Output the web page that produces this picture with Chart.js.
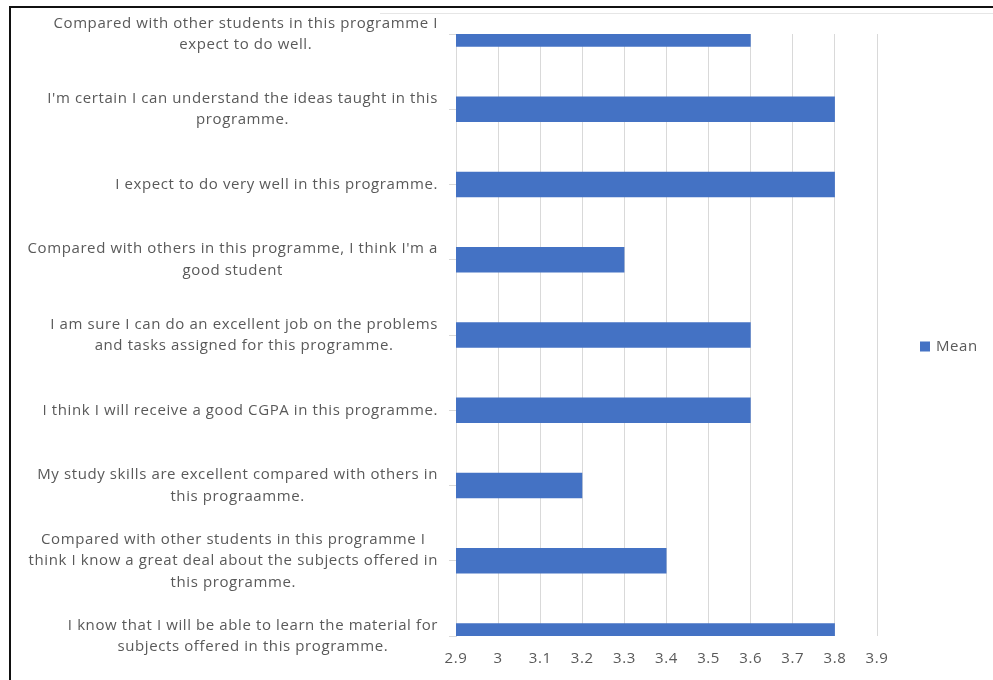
<!DOCTYPE html>
<html>
<head>
<meta charset="utf-8">
<title>Mean scores</title>
<script src="https://cdn.jsdelivr.net/npm/chart.js@4.4.1/dist/chart.umd.min.js"></script>
<style>
  html, body { margin: 0; padding: 0; background: #fff; }
  #wrap { position: relative; width: 993px; height: 680px; overflow: hidden; }
  #wrap canvas { position: absolute; left: 0; top: 0; }
  .frame-top { position: absolute; left: 9px; top: 6px; width: 984px; height: 2px; background: #111; }
  .frame-left { position: absolute; left: 9px; top: 6px; width: 2px; height: 674px; background: #111; }
  .inner-top { position: absolute; left: 380px; top: 13px; width: 613px; height: 1px; background: #e6e6e6; }
</style>
</head>
<body>
<div id="wrap">
  <canvas id="chart" width="993" height="680"></canvas>
  <div class="frame-top"></div>
  <div class="frame-left"></div>
  <div class="inner-top"></div>
</div>
<script>
// Survey statements (one entry per line of the wrapped label)
const categories = [
  ["Compared with other students in this programme I", "expect to do well."],
  ["I'm certain I can understand the ideas taught in this", "programme."],
  ["I expect to do very well in this programme."],
  ["Compared with others in this programme, I think I'm a", "good student"],
  ["I am sure I can do an excellent job on the problems", "and tasks assigned for this programme."],
  ["I think I will receive a good CGPA in this programme."],
  ["My study skills are excellent compared with others in", "this prograamme."],
  ["Compared with other students in this programme I", "think I know a great deal about the subjects offered in", "this programme."],
  ["I know that I will be able to learn the material for", "subjects offered in this programme."]
];
const meanValues = [3.6, 3.8, 3.8, 3.3, 3.6, 3.6, 3.2, 3.4, 3.8];
const xTickLabels = ["2.9", "3", "3.1", "3.2", "3.3", "3.4", "3.5", "3.6", "3.7", "3.8", "3.9"];
const seriesName = "Mean";

const TEXT_COLOR = "#595959";
const GRID_COLOR = "#d9d9d9";
const BAR_COLOR = "#4472c4";
const FONT_FAMILY = "'Open Sans', 'Noto Sans', sans-serif";
const LABEL_SIZE = 15;
const LETTER_SPACING = "0.6px";
const LABEL_LINE_HEIGHT = 21.5;

// Slightly open letter spacing for every piece of text on the canvas
const textSpacing = {
  id: "textSpacing",
  beforeDraw(chart) {
    chart.ctx.letterSpacing = LETTER_SPACING;
  }
};

// Category labels: each block right-aligned next to the axis, lines centred within the block
const centredLabels = {
  id: "centredLabels",
  afterDraw(chart) {
    const ctx = chart.ctx;
    const yScale = chart.scales.y;
    const right = yScale.right - 18;
    ctx.save();
    ctx.letterSpacing = LETTER_SPACING;
    ctx.font = LABEL_SIZE + "px " + FONT_FAMILY;
    ctx.fillStyle = TEXT_COLOR;
    ctx.textAlign = "center";
    ctx.textBaseline = "middle";
    chart.data.labels.forEach((lines, i) => {
      const cy = yScale.getPixelForTick(i);
      const w = Math.max(...lines.map(l => ctx.measureText(l).width));
      const cx = right - w / 2;
      const n = lines.length;
      lines.forEach((line, k) => {
        ctx.fillText(line, cx, cy + (k - (n - 1) / 2) * LABEL_LINE_HEIGHT);
      });
    });
    ctx.restore();
  }
};

// Single-entry legend to the right of the plot
const sideLegend = {
  id: "sideLegend",
  afterDraw(chart) {
    const ctx = chart.ctx;
    const area = chart.chartArea;
    const ds = chart.data.datasets[0];
    const x = area.right + 43;
    const y = chart.height / 2 + 6.5;
    ctx.save();
    ctx.letterSpacing = LETTER_SPACING;
    ctx.fillStyle = ds.backgroundColor;
    ctx.fillRect(x, y - 5, 10, 10);
    ctx.font = LABEL_SIZE + "px " + FONT_FAMILY;
    ctx.fillStyle = TEXT_COLOR;
    ctx.textAlign = "left";
    ctx.textBaseline = "middle";
    ctx.fillText(ds.label, x + 16, y);
    ctx.restore();
  }
};

new Chart(document.getElementById("chart"), {
  type: "bar",
  data: {
    labels: categories,
    datasets: [{
      label: seriesName,
      data: meanValues,
      backgroundColor: BAR_COLOR,
      borderWidth: 0,
      barPercentage: 0.34,
      categoryPercentage: 1,
      clip: 0
    }]
  },
  options: {
    indexAxis: "y",
    responsive: false,
    animation: false,
    layout: { padding: { top: 34, right: 116, bottom: 0, left: 0 } },
    plugins: {
      legend: { display: false },
      tooltip: { enabled: false }
    },
    scales: {
      x: {
        type: "linear",
        min: 2.9,
        max: 3.9,
        ticks: {
          stepSize: 0.1,
          color: TEXT_COLOR,
          font: { family: FONT_FAMILY, size: LABEL_SIZE },
          padding: 14,
          callback: (value, index) => xTickLabels[index]
        },
        grid: { color: GRID_COLOR, drawTicks: false },
        border: { display: false },
        afterFit: s => { s.height = 44; }
      },
      y: {
        type: "category",
        offset: false,
        ticks: { display: false },
        grid: { offset: false, drawOnChartArea: false, drawTicks: true, tickLength: 7, color: GRID_COLOR },
        border: { display: true, color: GRID_COLOR },
        afterFit: s => { s.width = 456; }
      }
    }
  },
  plugins: [textSpacing, centredLabels, sideLegend]
});
</script>
</body>
</html>
